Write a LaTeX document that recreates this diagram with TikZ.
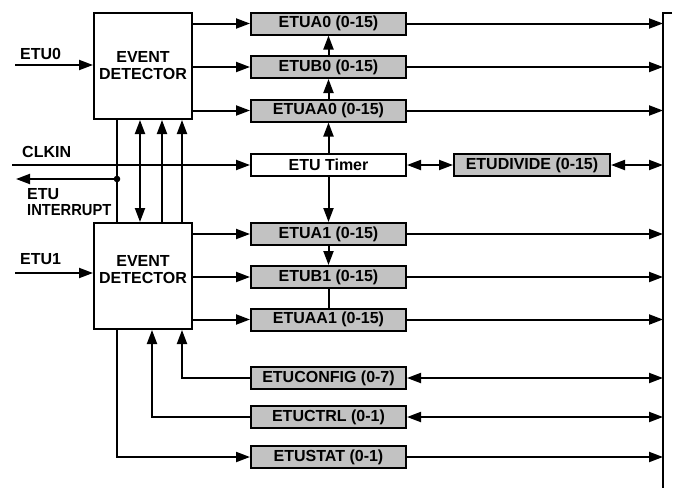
\documentclass[tikz,border=0pt]{standalone}
\usepackage{fontspec}
\setmainfont{Liberation Sans}
\usetikzlibrary{arrows.meta,calc}
\definecolor{boxgray}{RGB}{194,194,194}
\begin{document}
\begin{tikzpicture}[x=1pt,y=-1pt,
  every node/.style={font=\fontsize{16}{17}\selectfont\bfseries},
  ln/.style={line width=2pt},
  arr/.style={ln,-{Triangle[length=14pt,width=10pt]}},
  darr/.style={ln,{Triangle[length=14pt,width=10pt]}-{Triangle[length=14pt,width=10pt]}},
  edbox/.style={draw,line width=2pt,minimum width=98pt,minimum height=106pt,align=center,inner sep=0pt},
  reg/.style={draw,line width=2pt,fill=boxgray,minimum width=155pt,minimum height=22pt,inner sep=0pt},
  wreg/.style={reg,fill=white},
  lbl/.style={anchor=west,inner sep=0pt}]
\useasboundingbox (0,0) rectangle (677,488);

% event detectors
\node[edbox] (ed0) at (143,66) {EVENT\\DETECTOR};
\node[edbox,text depth=14pt] (ed1) at (143,276) {EVENT\\DETECTOR};

% registers
\node[reg] (a0) at (328.5,23.5) {ETUA0 (0-15)};
\node[reg] (b0) at (328.5,67) {ETUB0 (0-15)};
\node[reg] (aa0) at (328.5,110.5) {ETUAA0 (0-15)};
\node[wreg] (tim) at (328.5,165) {ETU Timer};
\node[reg,minimum width=156pt] (div) at (532,165) {ETUDIVIDE (0-15)};
\node[reg] (a1) at (328.5,234) {ETUA1 (0-15)};
\node[reg] (b1) at (328.5,277) {ETUB1 (0-15)};
\node[reg] (aa1) at (328.5,319.5) {ETUAA1 (0-15)};
\node[reg] (cfg) at (328.5,378) {ETUCONFIG (0-7)};
\node[reg] (ctl) at (328.5,417) {ETUCTRL (0-1)};
\node[reg] (st) at (328.5,457) {ETUSTAT (0-1)};

% bus
\coordinate (bustick) at (672,13);
\coordinate (bustop) at (663,13);
\coordinate (busbot) at (663,488);
\draw[ln] (bustick) -- (bustop) -- (busbot);

% labels
\node[lbl] (l0) at (20,54) {ETU0};
\node[lbl] (l1) at (20,259.5) {ETU1};
\node[lbl] (lclk) at (22,152) {CLKIN};
\node[lbl] (lint1) at (27,194) {ETU};
\node[lbl,xscale=0.92] (lint2) at (27,210.5) {INTERRUPT};

% inputs
\coordinate (in0) at (15,65);
\coordinate (in1) at (15,273);
\coordinate (clk) at (12,165);
\coordinate (intend) at (16,179);
\draw[arr] (in0) -- (in0 -| ed0.west);
\draw[arr] (in1) -- (in1 -| ed1.west);
\draw[arr] (clk) -- (tim.west);

% between detectors
\coordinate (dot) at ([xshift=-26pt]ed0.south |- intend);
\draw[ln] ([xshift=-26pt]ed0.south) -- ([xshift=-26pt]ed1.north);
\fill (dot) circle (3.3pt);
\draw[arr] (dot) -- (intend);
\draw[darr] ([xshift=-3pt]ed0.south) -- ([xshift=-3pt]ed1.north);
\draw[arr] ([xshift=19pt]ed1.north) -- ([xshift=19pt]ed0.south);
\draw[arr] ([xshift=39pt]ed1.north) -- ([xshift=39pt]ed0.south);

% detector outputs
\foreach \r in {a0,b0,aa0} {\draw[arr] (ed0.east |- \r.west) -- (\r.west);}
\foreach \r in {a1,b1,aa1} {\draw[arr] (ed1.east |- \r.west) -- (\r.west);}

% register chain
\draw[arr] (b0.north) -- (a0.south);
\draw[arr] (aa0.north) -- (b0.south);
\draw[arr] (tim.north) -- (aa0.south);
\draw[arr] (tim.south) -- (a1.north);
\draw[arr] (a1.south) -- (b1.north);
\draw[ln] (b1.south) -- (aa1.north);

% timer / divide
\draw[darr] (tim.east) -- (div.west);
\draw[darr] (div.east) -- (div.east -| bustop);

% outputs to bus
\foreach \r in {a0,b0,aa0,a1,b1,aa1,st} {\draw[arr] (\r.east) -- (\r.east -| bustop);}
\draw[darr] (cfg.east) -- (cfg.east -| bustop);
\draw[darr] (ctl.east) -- (ctl.east -| bustop);

% config / ctrl / stat to detector 1
\draw[arr] (cfg.west) -| ([xshift=39pt]ed1.south);
\draw[arr] (ctl.west) -| ([xshift=9pt]ed1.south);
\draw[arr] ([xshift=-26pt]ed1.south) |- (st.west);
\end{tikzpicture}
\end{document}
